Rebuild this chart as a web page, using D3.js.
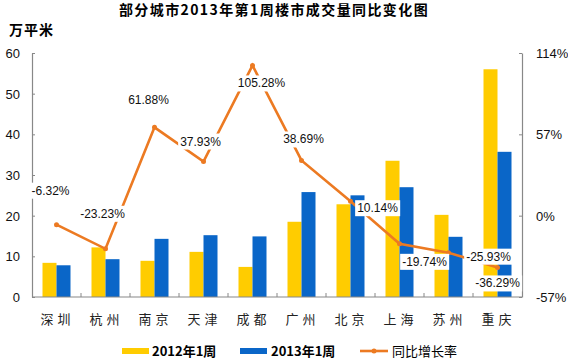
<!DOCTYPE html>
<html>
<head>
<meta charset="utf-8">
<script src="https://cdn.jsdelivr.net/npm/d3@7"></script>
<style>
body { margin: 0; background: #fff; }
svg { display: block; font-family: "Liberation Sans", Arial, sans-serif; }
</style>
</head>
<body>
<svg id="chart" width="568" height="359"></svg>
<script>
var cities = ["深圳", "杭州", "南京", "天津", "成都", "广州", "北京", "上海", "苏州", "重庆"];
var week2012 = [8.4, 12.2, 8.9, 11.1, 7.4, 18.5, 22.8, 33.5, 20.2, 56.0];
var week2013 = [7.8, 9.3, 14.3, 15.2, 14.9, 25.8, 25.0, 27.0, 14.8, 35.7];
var growth = [-6.32, -23.23, 61.88, 37.93, 105.28, 38.69, 10.14, -19.74, -25.93, -36.29];
var leftTicks = [0, 10, 20, 30, 40, 50, 60];
var rightTicks = [-57, 0, 57, 114];

// label offsets relative to each point
var labelDx = [-6, -3, -6, -3, 9, 2, 27, 25, 40, 0];
var labelDy = [-34, -35, -27, -20, 18, -21, 7, 18, 4, 16];

var yellow = "#FFCC00", blue = "#0A66C8", orange = "#EC7A22";

var svg = d3.select("svg#chart");
var plotL = 32, plotR = 522, plotT = 53, plotB = 297;

var x = d3.scaleBand().domain(cities).range([plotL, plotR]);
var sub = d3.scaleBand().domain([0, 1]).range([0, 28]);
var yL = d3.scaleLinear().domain([0, 60]).range([plotB, plotT]);
var yR = d3.scaleLinear().domain([-57, 114]).range([plotB, plotT]);

svg.append("text")
    .attr("x", 274).attr("y", 15)
    .attr("text-anchor", "middle")
    .style("font-family", "'Noto Sans CJK SC'")
    .style("font-size", "14px").style("font-weight", "bold")
    .style("letter-spacing", "1.4px")
    .text("部分城市2013年第1周楼市成交量同比变化图");

svg.append("text")
    .attr("x", 9).attr("y", 35)
    .style("font-family", "'Noto Sans CJK SC'")
    .style("font-size", "14px").style("font-weight", "bold")
    .style("letter-spacing", "1px")
    .text("万平米");

// bars
var groups = svg.append("g").selectAll("g")
    .data(cities)
    .enter().append("g")
    .attr("transform", function(d) { return "translate(" + (x(d) + x.bandwidth() / 2 - 14) + ",0)"; });

groups.append("rect")
    .attr("x", sub(0)).attr("width", sub.bandwidth())
    .attr("y", function(d, i) { return yL(week2012[i]); })
    .attr("height", function(d, i) { return plotB - yL(week2012[i]); })
    .attr("fill", yellow);

groups.append("rect")
    .attr("x", sub(1)).attr("width", sub.bandwidth())
    .attr("y", function(d, i) { return yL(week2013[i]); })
    .attr("height", function(d, i) { return plotB - yL(week2013[i]); })
    .attr("fill", blue);

// axes
var axisColor = "#888";
var gl = svg.append("g").attr("transform", "translate(" + plotL + ",0)")
    .call(d3.axisRight(yL).tickValues(leftTicks).tickSize(3).tickSizeOuter(0).tickFormat(""));
var gr = svg.append("g").attr("transform", "translate(" + plotR + ",0)")
    .call(d3.axisLeft(yR).tickValues(rightTicks).tickSize(3).tickSizeOuter(0).tickFormat(""));
[gl, gr].forEach(function(g) {
    g.select(".domain").attr("stroke", axisColor).attr("stroke-width", 1.2);
    g.selectAll(".tick line").attr("stroke", axisColor);
});

svg.append("g").selectAll("text")
    .data(leftTicks)
    .enter().append("text")
    .attr("x", 20).attr("y", function(d) { return yL(d) + 5; })
    .attr("text-anchor", "end")
    .style("font-size", "13px").attr("fill", "#111")
    .text(function(d) { return d; });

svg.append("g").selectAll("text")
    .data(rightTicks)
    .enter().append("text")
    .attr("x", 536).attr("y", function(d) { return yR(d) + 5; })
    .style("font-size", "13px").attr("fill", "#111")
    .text(function(d) { return d + "%"; });

// x axis baseline with band ticks
svg.append("line")
    .attr("x1", plotL).attr("x2", plotR)
    .attr("y1", plotB).attr("y2", plotB)
    .attr("stroke", axisColor).attr("stroke-width", 1.2);
svg.append("g").selectAll("line")
    .data(cities.slice(1))
    .enter().append("line")
    .attr("x1", function(d) { return x(d); }).attr("x2", function(d) { return x(d); })
    .attr("y1", plotB).attr("y2", plotB - 4)
    .attr("stroke", axisColor);

svg.append("g").selectAll("text")
    .data(cities)
    .enter().append("text")
    .attr("x", function(d) { return x(d) + x.bandwidth() / 2 + 1; })
    .attr("y", 324)
    .attr("text-anchor", "middle")
    .style("font-family", "'Noto Sans CJK SC'")
    .style("font-size", "13px")
    .style("letter-spacing", "4px")
    .attr("fill", "#222")
    .text(function(d) { return d; });

// growth line
var cx = function(i) { return x(cities[i]) + x.bandwidth() / 2; };
var line = d3.line()
    .x(function(d, i) { return cx(i); })
    .y(function(d) { return yR(d); });

svg.append("path")
    .datum(growth)
    .attr("d", line)
    .attr("fill", "none")
    .attr("stroke", orange)
    .attr("stroke-width", 2.6)
    .attr("stroke-linejoin", "miter");

svg.append("g").selectAll("circle")
    .data(growth)
    .enter().append("circle")
    .attr("cx", function(d, i) { return cx(i); })
    .attr("cy", function(d) { return yR(d); })
    .attr("r", 2.5)
    .attr("fill", orange);

var labels = svg.append("g").selectAll("g")
    .data(growth)
    .enter().append("g")
    .attr("transform", function(d, i) {
        return "translate(" + (cx(i) + labelDx[i]) + "," + (yR(d) + labelDy[i]) + ")";
    });

var boxes = labels.append("rect").attr("fill", "#fff");

labels.append("text")
    .attr("text-anchor", "middle")
    .attr("y", 4)
    .style("font-size", "12px")
    .attr("fill", "#111")
    .text(function(d) { return d.toFixed(2) + "%"; });

// size each white box to its text
labels.each(function() {
    var g = d3.select(this);
    var bb = g.select("text").node().getBBox();
    g.select("rect")
        .attr("x", bb.x - 2).attr("y", bb.y - 1)
        .attr("width", bb.width + 4).attr("height", bb.height + 2);
});

// legend
var legend = svg.append("g").attr("transform", "translate(0,351)");
legend.append("rect").attr("x", 122).attr("y", -3).attr("width", 27).attr("height", 6).attr("fill", yellow);
legend.append("text").attr("x", 152).attr("y", 5)
    .style("font-size", "13px").style("font-weight", "bold")
    .style("font-family", "'Noto Sans CJK SC'").text("2012年1周");
legend.append("rect").attr("x", 240).attr("y", -3).attr("width", 27).attr("height", 6).attr("fill", blue);
legend.append("text").attr("x", 271).attr("y", 5)
    .style("font-size", "13px").style("font-weight", "bold")
    .style("font-family", "'Noto Sans CJK SC'").text("2013年1周");
legend.append("line").attr("x1", 360).attr("x2", 388).attr("y1", 0).attr("y2", 0)
    .attr("stroke", orange).attr("stroke-width", 2.6);
legend.append("circle").attr("cx", 374).attr("cy", 0).attr("r", 2.5).attr("fill", orange);
legend.append("text").attr("x", 392).attr("y", 5)
    .style("font-size", "13px")
    .style("font-family", "'Noto Sans CJK SC'").text("同比增长率");
</script>
</body>
</html>
